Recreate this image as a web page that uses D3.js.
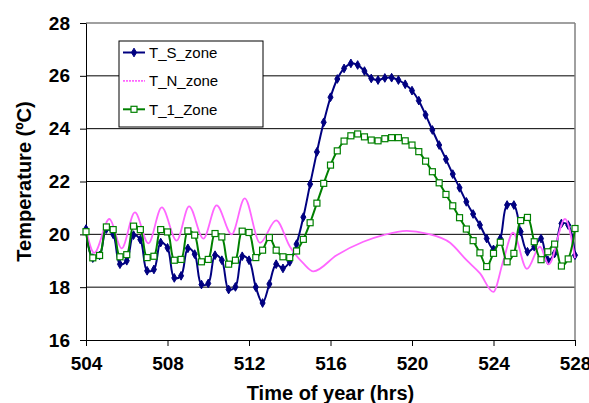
<!DOCTYPE html>
<html>
<head>
<meta charset="utf-8">
<script src="https://cdn.jsdelivr.net/npm/d3@7"></script>
<style>
  body { margin: 0; background: #fff; }
  text { font-family: "Liberation Sans", Arial, sans-serif; }
</style>
</head>
<body>
<div id="chart"></div>
<script>
// hourly data sampled every 20 min, 504 -> 528 hrs
const sZone = [20.2, 19.1, 19.2, 20.2, 20.0, 18.87, 19.0, 19.97, 19.8, 18.62, 18.67, 19.69, 19.49,
	18.35, 18.43, 19.47, 19.25, 18.1, 18.14, 19.21, 19.02, 17.91, 18.01, 19.17, 19.02,
	18.0, 17.4, 18.12, 18.87, 18.71, 18.96, 19.63, 20.65, 21.9, 23.12, 24.24, 25.19,
	25.88, 26.28, 26.47, 26.41, 26.18, 25.9, 25.84, 25.92, 25.93, 25.84, 25.68, 25.44,
	25.06, 24.52, 23.95, 23.38, 22.84, 22.28, 21.76, 21.23, 20.77, 20.35, 19.84, 19.43,
	19.84, 21.11, 21.11, 20.1, 19.34, 19.53, 19.84, 19.02, 19.28, 20.41, 20.35, 19.21];

const oneZone = [20.1, 19.11, 19.2, 20.28, 20.18, 19.15, 19.23, 20.31, 20.18, 19.12, 19.17, 20.18, 20.09,
	19.02, 19.05, 20.13, 19.97, 18.96, 19.05, 20.03, 19.9, 18.87, 19.02, 20.12, 20.07,
	19.12, 19.4, 19.88, 19.4, 19.15, 19.12, 19.37, 19.81, 20.44, 21.18, 21.93, 22.62,
	23.16, 23.53, 23.73, 23.8, 23.69, 23.57, 23.54, 23.62, 23.66, 23.66, 23.54, 23.38,
	23.13, 22.77, 22.37, 21.95, 21.51, 21.08, 20.63, 20.2, 19.76, 19.3, 18.78, 19.28,
	19.7, 18.96, 19.28, 20.52, 20.64, 19.72, 19.04, 19.34, 19.63, 18.8, 19.07, 20.22];

const stepHours = d3.range(sZone.length).map((i) => 504 + i / 3);

// N zone is a smooth curve, read at its turning points
const nHours = [504, 504.4, 505.15, 505.75, 506.4, 507.06, 507.72, 508.45, 509.06, 509.76, 510.41,
	511.15, 511.79, 512.54, 513.33, 514.01, 514.67, 515.16, 516.3, 517.61, 518.59, 519.74,
	520.72, 521.87, 522.68, 523.34, 523.99, 524.48, 524.96, 525.64, 526.28, 526.71, 527.51, 528];
const nZone = [20.2, 19.3, 20.58, 19.47, 20.83, 19.66, 21.02, 19.76, 21.06, 19.84, 21.1,
	20.0, 21.36, 19.68, 20.53, 19.53, 18.9, 18.6, 19.21, 19.72, 19.97, 20.13,
	20.03, 19.68, 19.02, 18.52, 17.82, 19.0, 20.06, 18.69, 19.53, 18.86, 20.58, 19.1];

const xTicks = [504, 508, 512, 516, 520, 524, 528];
const yTicks = [16, 18, 20, 22, 24, 26, 28];

const margin = { top: 23, right: 14, bottom: 63, left: 86 };
const width = 589 - margin.left - margin.right;
const height = 403 - margin.top - margin.bottom;

const svg = d3
	.select("#chart")
	.append("svg")
	.attr("width", 589)
	.attr("height", 403);

const g = svg.append("g").attr("transform", "translate(" + margin.left + "," + margin.top + ")");

const x = d3.scaleLinear().domain([504, 528]).range([0, width]);
const y = d3.scaleLinear().domain([16, 28]).range([height, 0]);

// gridlines
g.selectAll(".grid")
	.data(yTicks.filter((d) => d > 16))
	.enter()
	.append("line")
	.attr("class", "grid")
	.attr("x1", 0)
	.attr("x2", width)
	.attr("y1", (d) => y(d))
	.attr("y2", (d) => y(d))
	.attr("stroke", (d) => (d === 28 ? "#808080" : "#000"))
	.attr("stroke-width", (d) => (d === 28 ? 1.5 : 1));

// right frame
g.append("line")
	.attr("x1", width).attr("x2", width)
	.attr("y1", 0).attr("y2", height)
	.attr("stroke", "#808080")
	.attr("stroke-width", 1.5);

// axes
const xAxis = g
	.append("g")
	.attr("transform", "translate(0," + height + ")")
	.call(d3.axisBottom(x).tickValues(xTicks).tickSize(6).tickPadding(11).tickSizeOuter(0).tickFormat(d3.format("d")));
const yAxis = g
	.append("g")
	.call(d3.axisLeft(y).tickValues(yTicks).tickSize(6).tickPadding(10).tickSizeOuter(0));

[xAxis, yAxis].forEach((a) => {
	a.selectAll("text")
		.style("font-family", "'Liberation Sans', Arial, sans-serif")
		.style("font-size", "19px")
		.style("font-weight", "bold")
		.attr("fill", "#000");
	a.selectAll("line, path").attr("stroke", "#000");
});

// axis titles
svg.append("text")
	.attr("x", margin.left + width / 2)
	.attr("y", 400)
	.attr("text-anchor", "middle")
	.style("font-size", "20px")
	.style("font-weight", "bold")
	.text("Time of year (hrs)");

svg.append("text")
	.attr("transform", "translate(31," + (margin.top + height / 2) + ") rotate(-90)")
	.attr("text-anchor", "middle")
	.style("font-size", "20px")
	.style("font-weight", "bold")
	.text("Temperature (ºC)");

const blue = "#000080";
const pink = "#ff66ff";
const green = "#008000";

const line = d3.line().x((d) => x(d[0])).y((d) => y(d[1]));
const sData = stepHours.map((h, i) => [h, sZone[i]]);
const oneData = stepHours.map((h, i) => [h, oneZone[i]]);
const nData = nHours.map((h, i) => [h, nZone[i]]);

// T_S_zone
g.append("path")
	.datum(sData)
	.attr("d", line.curve(d3.curveCatmullRom.alpha(0.5)))
	.attr("fill", "none")
	.attr("stroke", blue)
	.attr("stroke-width", 2);
g.selectAll(".sdot")
	.data(sData)
	.enter()
	.append("path")
	.attr("class", "sdot")
	.attr("d", d3.symbol(d3.symbolDiamond, 22))
	.attr("transform", (d) => "translate(" + x(d[0]) + "," + y(d[1]) + ")")
	.attr("fill", blue)
	.attr("stroke", blue);

// T_N_zone
g.append("path")
	.datum(nData)
	.attr("d", d3.line().x((d) => x(d[0])).y((d) => y(d[1])).curve(d3.curveMonotoneX))
	.attr("fill", "none")
	.attr("stroke", pink)
	.attr("stroke-width", 1.8);

// T_1_Zone
g.append("path")
	.datum(oneData)
	.attr("d", d3.line().x((d) => x(d[0])).y((d) => y(d[1])).curve(d3.curveCatmullRom.alpha(0.5)))
	.attr("fill", "none")
	.attr("stroke", green)
	.attr("stroke-width", 2);
g.selectAll(".odot")
	.data(oneData)
	.enter()
	.append("rect")
	.attr("class", "odot")
	.attr("x", (d) => x(d[0]) - 3)
	.attr("y", (d) => y(d[1]) - 3)
	.attr("width", 6)
	.attr("height", 6)
	.attr("fill", "#fff")
	.attr("stroke", green)
	.attr("stroke-width", 1.2);

// legend
const legend = svg.append("g").attr("transform", "translate(119,41)");
legend.append("rect")
	.attr("width", 144)
	.attr("height", 86)
	.attr("fill", "#fff")
	.attr("stroke", "#000")
	.attr("stroke-width", 1);

const items = [
	{ name: "T_S_zone", color: blue, mark: "diamond", dash: null },
	{ name: "T_N_zone", color: pink, mark: null, dash: "2,1" },
	{ name: "T_1_Zone", color: green, mark: "square", dash: null }
];
items.forEach((it, i) => {
	const ry = 11.5 + i * 28.4;
	legend.append("line")
		.attr("x1", 4).attr("x2", 26)
		.attr("y1", ry).attr("y2", ry)
		.attr("stroke", it.color)
		.attr("stroke-width", it.mark ? 2 : 1.8)
		.attr("stroke-dasharray", it.dash);
	if (it.mark === "diamond") {
		legend.append("path")
			.attr("d", d3.symbol(d3.symbolDiamond, 22))
			.attr("transform", "translate(15," + ry + ")")
			.attr("fill", it.color)
			.attr("stroke", it.color);
	} else if (it.mark === "square") {
		legend.append("rect")
			.attr("x", 12).attr("y", ry - 3)
			.attr("width", 6).attr("height", 6)
			.attr("fill", "#fff")
			.attr("stroke", it.color)
			.attr("stroke-width", 1.2);
	}
	legend.append("text")
		.attr("x", 30)
		.attr("y", ry + 5.4)
		.style("font-size", "15px")
		.attr("fill", "#000")
		.text(it.name);
});
</script>
</body>
</html>
